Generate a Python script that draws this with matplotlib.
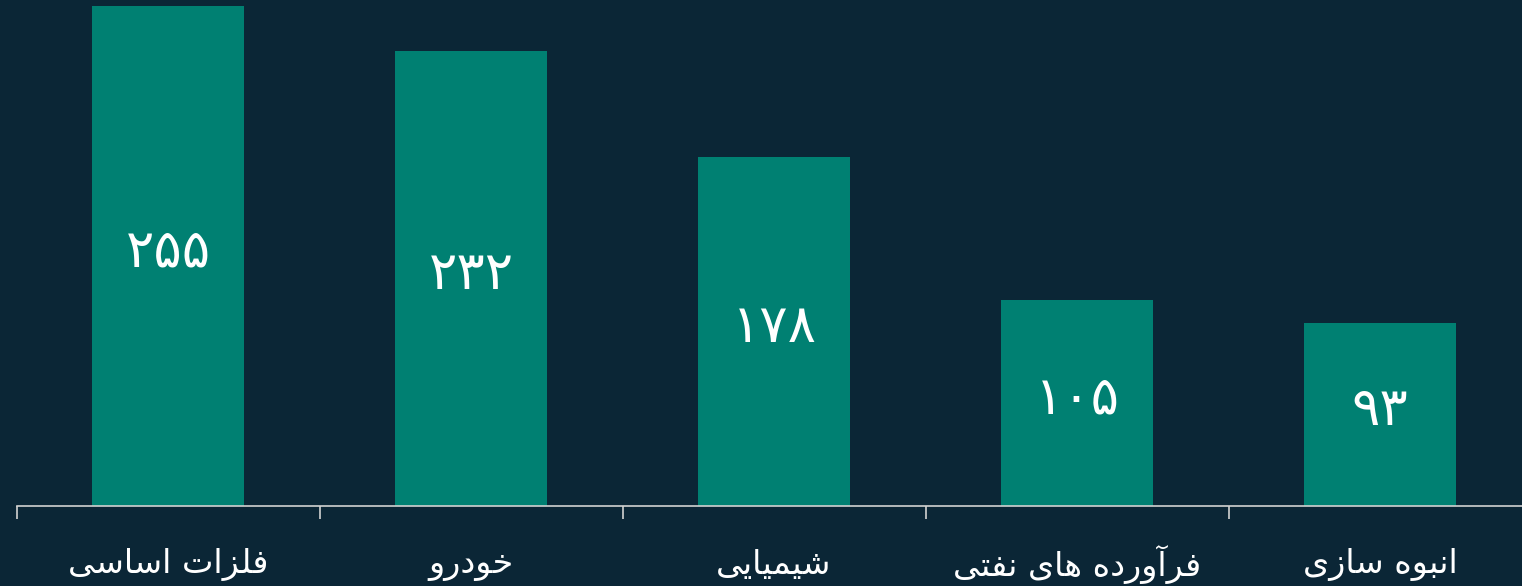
import matplotlib
matplotlib.use("Agg")
import matplotlib.pyplot as plt
from matplotlib.transforms import blended_transform_factory, offset_copy

categories = ["فلزات اساسی", "خودرو", "شیمیایی", "فرآورده های نفتی", "انبوه سازی"]
values = [255, 232, 178, 105, 93]

BG = "#0b2636"
BAR = "#008072"
AXIS = "#d2d2d2"

# Minimal Persian shaper (presentation forms) since matplotlib has no complex text layout
FORMS = {
    'ا': (0xFE8D, 0xFE8E, None, None),
    'آ': (0xFE81, 0xFE82, None, None),
    'ب': (0xFE8F, 0xFE90, 0xFE91, 0xFE92),
    'ت': (0xFE95, 0xFE96, 0xFE97, 0xFE98),
    'خ': (0xFEA5, 0xFEA6, 0xFEA7, 0xFEA8),
    'د': (0xFEA9, 0xFEAA, None, None),
    'ر': (0xFEAD, 0xFEAE, None, None),
    'ز': (0xFEAF, 0xFEB0, None, None),
    'س': (0xFEB1, 0xFEB2, 0xFEB3, 0xFEB4),
    'ش': (0xFEB5, 0xFEB6, 0xFEB7, 0xFEB8),
    'ف': (0xFED1, 0xFED2, 0xFED3, 0xFED4),
    'ل': (0xFEDD, 0xFEDE, 0xFEDF, 0xFEE0),
    'م': (0xFEE1, 0xFEE2, 0xFEE3, 0xFEE4),
    'ن': (0xFEE5, 0xFEE6, 0xFEE7, 0xFEE8),
    'ه': (0xFEE9, 0xFEEA, 0xFEEB, 0xFEEC),
    'و': (0xFEED, 0xFEEE, None, None),
    'ی': (0xFBFC, 0xFBFD, 0xFBFE, 0xFBFF),
}


def dual(c):
    return c in FORMS and FORMS[c][2] is not None


def shape(s):
    out = []
    for i, c in enumerate(s):
        if c not in FORMS:
            out.append(c)
            continue
        prev = s[i - 1] if i > 0 else ''
        nxt = s[i + 1] if i + 1 < len(s) else ''
        jp = dual(prev)
        jn = dual(c) and nxt in FORMS
        iso, fin, ini, med = FORMS[c]
        if jp and jn:
            g = med
        elif jp:
            g = fin
        elif jn:
            g = ini
        else:
            g = iso
        out.append(chr(g))
    return ''.join(reversed(out))


def fa_digits(n):
    return str(n).translate(str.maketrans("0123456789", "۰۱۲۳۴۵۶۷۸۹"))


plt.rcParams['font.family'] = ['DejaVu Sans']

W, H = 1522, 586
fig = plt.figure(figsize=(W / 100, H / 100), dpi=100, facecolor=BG)
left_px, base_px = 16.5, 505.5
unit = 303.0
ax = fig.add_axes([left_px / W, (H - base_px) / H, 5 * unit / W, base_px / H])
ax.set_facecolor(BG)

x = list(range(len(categories)))
ax.bar(x, values, width=0.5, color=BAR, zorder=2)
ax.set_xlim(-0.5, 4.5)
ax.set_ylim(0, 258.3)

for s in ["top", "right", "left"]:
    ax.spines[s].set_visible(False)
ax.spines["bottom"].set_color(AXIS)
ax.spines["bottom"].set_linewidth(1.2)
ax.set_yticks([])
ax.set_xticks([i - 0.5 for i in range(len(categories) + 1)])
ax.set_xticklabels([])
ax.tick_params(axis="x", direction="out", length=9.5, width=1.2, color=AXIS)

tr = blended_transform_factory(ax.transData, ax.transAxes)
val_tr = offset_copy(ax.transData, fig=fig, x=0, y=3, units="points")
for i, (cat, v) in enumerate(zip(categories, values)):
    ax.text(i, v / 2, fa_digits(v), transform=val_tr, ha="center", va="center",
            color="white", fontsize=38, zorder=3)
    ax.text(i, -59 / base_px, shape(cat), transform=tr, ha="center", va="center",
            color="white", fontsize=24, clip_on=False)

fig.savefig("out.png", dpi=100, facecolor=BG)
